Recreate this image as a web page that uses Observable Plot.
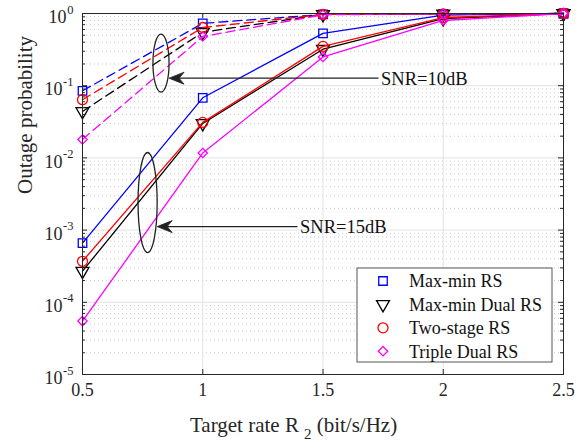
<!DOCTYPE html>
<html><head><meta charset="utf-8">
<script src="https://cdn.jsdelivr.net/npm/d3@7"></script>
<script src="https://cdn.jsdelivr.net/npm/@observablehq/plot@0.6"></script>
<style>body{margin:0;background:#fff}#chart{width:587px;height:441px}</style>
</head><body><div id="chart"></div>
<script>
// ---- data ----
const rates = [0.5, 1, 1.5, 2, 2.5];
const seriesNames = ["Max-min RS", "Max-min Dual RS", "Two-stage RS", "Triple Dual RS"];
const seriesColors = ["#0000ff", "#000000", "#ff0000", "#ff00ff"];
const seriesSymbols = ["square", "triangle", "circle", "diamond2"];
// SNR = 10 dB (dashed)
const maxMin10 = [0.085, 0.73, 0.97, 0.99, 1];
const maxMinDual10 = [0.044, 0.55, 0.97, 0.99, 1];
const twoStage10 = [0.064, 0.64, 0.97, 0.99, 1];
const tripleDual10 = [0.018, 0.48, 0.96, 0.99, 1];
// SNR = 15 dB (solid)
const maxMin15 = [6.6e-4, 0.068, 0.53, 0.95, 1];
const maxMinDual15 = [2.7e-4, 0.030, 0.32, 0.85, 1];
const twoStage15 = [3.7e-4, 0.031, 0.35, 0.88, 1];
const tripleDual15 = [5.5e-5, 0.0117, 0.25, 0.80, 1];
const xTicks = [0.5, 1, 1.5, 2, 2.5];
const yExponents = [0, -1, -2, -3, -4, -5];
// annotations: ellipse extents, arrow from/to, label
const annotations = [
  {label: "SNR=10dB", ex: [0.795, 0.862], ey: [0.08, 0.51], ax1: 1.733, ax2: 0.862, ay: 0.125},
  {label: "SNR=15dB", ex: [0.733, 0.8125], ey: [4.8e-4, 0.0117], ax1: 1.396, ax2: 0.8125, ay: 0.0011}
];

const values10 = [maxMin10, maxMinDual10, twoStage10, tripleDual10];
const values15 = [maxMin15, maxMinDual15, twoStage15, tripleDual15];
const rows = [];
seriesNames.forEach((s, i) => {
  rates.forEach((r, j) => {
    rows.push({series: s, snr: 10, rate: r, p: values10[i][j]});
    rows.push({series: s, snr: 15, rate: r, p: values15[i][j]});
  });
});
const yMajor = yExponents.map(e => 10 ** e);
const yMinor = d3.range(-5, 0).flatMap(e => d3.range(2, 10).map(m => m * 10 ** e));

const W = 587, H = 441, mL = 82, mR = 24, mT = 13, mB = 67;
const pw = W - mL - mR, ph = H - mT - mB;
const axisColor = "#262626";
const font = "'Liberation Serif', 'Times New Roman', serif";
const markerR = s => s === "Two-stage RS" ? 5 : s === "Triple Dual RS" ? 4.2 : 4.8;

const seriesMarks = seriesNames.flatMap(s => [
  Plot.line(rows.filter(d => d.series === s && d.snr === 10), {x: "rate", y: "p", stroke: "series", strokeWidth: 1.3, strokeDasharray: "9,5"}),
  Plot.line(rows.filter(d => d.series === s && d.snr === 15), {x: "rate", y: "p", stroke: "series", strokeWidth: 1.3}),
  Plot.dot(rows.filter(d => d.series === s), {x: "rate", y: "p", stroke: "series", symbol: "series", fill: "none", strokeWidth: 1.3,
    r: markerR(s), rotate: s === "Max-min Dual RS" ? 180 : 0})
]);

const plot = Plot.plot({
  width: W, height: H,
  marginLeft: mL, marginRight: mR, marginTop: mT, marginBottom: mB,
  x: {domain: [0.5, 2.5], axis: null},
  y: {type: "log", domain: [1e-5, 1], axis: null},
  color: {domain: seriesNames, range: seriesColors},
  symbol: {domain: seriesNames, range: seriesSymbols},
  style: {fontFamily: font, background: "white", overflow: "visible"},
  marks: [
    Plot.ruleY(yMinor, {stroke: "#c4c4c4", strokeDasharray: "1,3", strokeWidth: 0.9}),
    Plot.ruleX(xTicks, {stroke: "#e2e2e2", strokeWidth: 1}),
    Plot.ruleY(yMajor, {stroke: "#e2e2e2", strokeWidth: 1}),
    ...seriesMarks,
    Plot.frame({stroke: axisColor, strokeWidth: 1}),
    // inward ticks
    Plot.tickX(xTicks, {x: d => d, insetTop: ph - 5, stroke: axisColor}),
    Plot.tickX(xTicks, {x: d => d, insetBottom: ph - 5, stroke: axisColor}),
    Plot.tickY(yMajor, {y: d => d, insetRight: pw - 5, stroke: axisColor}),
    Plot.tickY(yMajor, {y: d => d, insetLeft: pw - 5, stroke: axisColor}),
    Plot.tickY(yMinor, {y: d => d, insetRight: pw - 3, stroke: axisColor}),
    Plot.tickY(yMinor, {y: d => d, insetLeft: pw - 3, stroke: axisColor}),
    // tick labels
    Plot.text(xTicks, {x: d => d, frameAnchor: "bottom", dy: 21, text: d => String(d), fontSize: 18, fill: axisColor}),
    Plot.text(yExponents.filter(e => e === 0), {y: d => 10 ** d, frameAnchor: "left", dx: -16, textAnchor: "end", dy: 4, text: () => "10", fontSize: 18, fill: axisColor}),
    Plot.text(yExponents.filter(e => e !== 0), {y: d => 10 ** d, frameAnchor: "left", dx: -20, textAnchor: "end", dy: 4, text: () => "10", fontSize: 18, fill: axisColor}),
    Plot.text(yExponents, {y: d => 10 ** d, frameAnchor: "left", dx: -9, textAnchor: "end", dy: -4, text: d => d === 0 ? "0" : "-" + (-d), fontSize: 12.5, fill: axisColor}),
    // y axis title
    Plot.text(["Outage probability"], {frameAnchor: "left", dx: -57, rotate: -90, text: d => d, fontSize: 21, fill: axisColor}),
    // annotation labels
    Plot.text(annotations, {x: d => d.ax1, y: "ay", text: "label", textAnchor: "start", dx: 2, fontSize: 18.5, fill: "#111"})
  ]
});
document.getElementById("chart").appendChild(plot);

const svg = d3.select(plot);
const sx = plot.scale("x"), sy = plot.scale("y");

// x axis title with subscript
const xt = svg.append("text").attr("x", 190).attr("y", 432).attr("text-anchor", "start")
  .attr("font-family", font).attr("font-size", 21).attr("fill", axisColor);
xt.append("tspan").text("Target rate R");
xt.append("tspan").attr("dx", 5).attr("dy", 7).attr("font-size", 15).text("2");
xt.append("tspan").attr("dy", -7).text(" (bit/s/Hz)");

// ellipses + arrows
annotations.forEach(a => {
  const x0 = sx.apply(a.ex[0]), x1 = sx.apply(a.ex[1]);
  const y0 = sy.apply(a.ey[1]), y1 = sy.apply(a.ey[0]);
  svg.append("ellipse").attr("cx", (x0 + x1) / 2).attr("cy", (y0 + y1) / 2)
    .attr("rx", (x1 - x0) / 2).attr("ry", (y1 - y0) / 2)
    .attr("fill", "none").attr("stroke", "#222").attr("stroke-width", 1.3);
  const ax1 = sx.apply(a.ax1), ax2 = sx.apply(a.ax2), ay = sy.apply(a.ay);
  svg.append("line").attr("x1", ax1).attr("x2", ax2 + 8).attr("y1", ay).attr("y2", ay)
    .attr("stroke", "#222").attr("stroke-width", 1.3);
  svg.append("path").attr("d", `M${ax2},${ay} L${ax2 + 15},${ay - 6} L${ax2 + 10},${ay} L${ax2 + 15},${ay + 6} Z`)
    .attr("fill", "#222").attr("stroke", "#222").attr("stroke-width", 0.8).attr("stroke-linejoin", "miter");
});

// legend
const lg = svg.append("g").attr("text-anchor", "start");
lg.append("rect").attr("x", 357).attr("y", 268).attr("width", 195).attr("height", 94)
  .attr("fill", "white").attr("stroke", "#555").attr("stroke-width", 1);
const symMap = {square: d3.symbolSquare, triangle: d3.symbolTriangle, circle: d3.symbolCircle, diamond2: d3.symbolDiamond2};
seriesNames.forEach((s, i) => {
  const cy = 281 + i * 23.4;
  const r = markerR(s);
  lg.append("path").attr("d", d3.symbol(symMap[seriesSymbols[i]], Math.PI * r * r)())
    .attr("transform", `translate(383,${cy}) rotate(${s === "Max-min Dual RS" ? 180 : 0})`)
    .attr("fill", "none").attr("stroke", seriesColors[i]).attr("stroke-width", 1.3);
  lg.append("text").attr("x", 409).attr("y", cy).attr("dy", "0.35em")
    .attr("font-family", font).attr("font-size", 18).attr("fill", "#111").text(s);
});
</script>
</body></html>
